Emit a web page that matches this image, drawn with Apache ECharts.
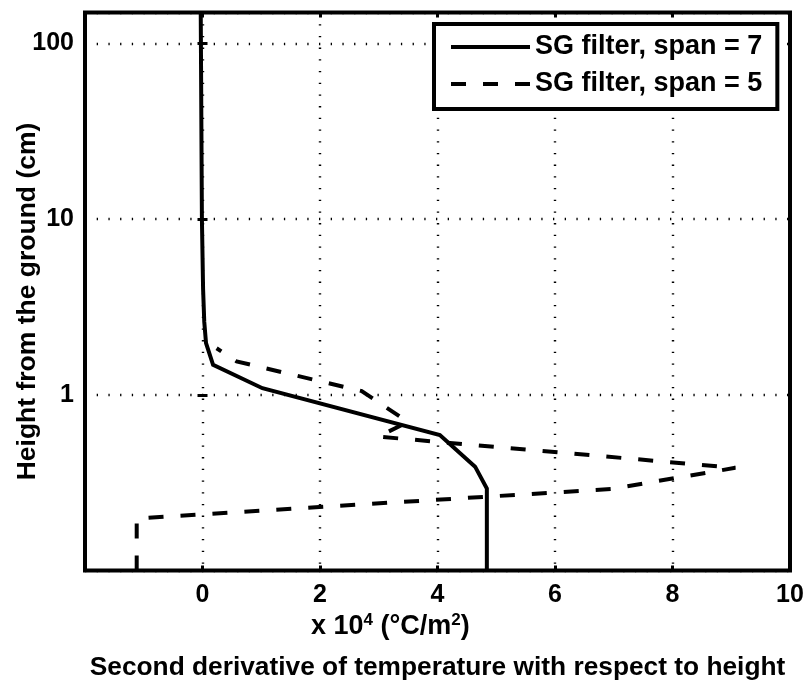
<!DOCTYPE html>
<html>
<head>
<meta charset="utf-8">
<script src="https://cdn.jsdelivr.net/npm/echarts@6/dist/echarts.min.js"></script>
<style>
  html, body { margin: 0; padding: 0; background: #fff; }
  #chart { width: 807px; height: 682px; }
</style>
</head>
<body>
<div id="chart"></div>
<script>
// Second derivative of temperature (x 10^4 °C/m²) against height above ground (cm),
// for two Savitzky–Golay filter spans. Points run from the ground upwards.
const seriesNames = ['SG filter, span = 7', 'SG filter, span = 5'];

const span7Curvature = [4.84, 4.84, 4.64, 4.04, 1.02, 0.18, 0.06, 0.03, 0.01, -0.01, -0.03];
const span7Height    = [0.1,  0.293, 0.39, 0.59, 1.09, 1.48, 1.97, 2.6,  4,    10,    150];

const span5Curvature = [-1.12, -1.12, 6.95, 9.07, 2.99, 3.50, 2.71, 0.58, 0.24];
const span5Height    = [0.1,   0.198, 0.291, 0.384, 0.578, 0.70, 1.05, 1.55, 1.84];

// Axis ticks and their labels
const xTickValues = [0, 2, 4, 6, 8, 10];
const yTickLabels = ['1', '10', '100'];

const FONT = 'Liberation Sans, Arial, Helvetica, sans-serif';

function pairs(xs, ys) {
  return xs.map((x, i) => [x, ys[i]]);
}

const chart = echarts.init(document.getElementById('chart'), null, { renderer: 'canvas' });

const dotted = { color: '#000', width: 2.4, type: [1.3, 10.4] };
const tickStyle = { color: '#000', width: 3 };

chart.setOption({
  animation: false,
  backgroundColor: '#fff',
  textStyle: { fontFamily: FONT, fontWeight: 'bold', color: '#000' },
  grid: {
    left: 85, right: 17, top: 12.5, bottom: 111.5,
    containLabel: false, outerBoundsMode: 'none',
    show: true, borderColor: '#000', borderWidth: 4, backgroundColor: 'transparent'
  },
  title: {
    text: '{m|x 10}{s|4}{m| (°C/m}{s|2}{m|)}',
    left: 311, top: 612, padding: 0,
    textStyle: {
      rich: {
        m: { fontFamily: FONT, fontWeight: 'bold', fontSize: 27, lineHeight: 30, color: '#000' },
        s: { fontFamily: FONT, fontWeight: 'bold', fontSize: 17, lineHeight: 10, verticalAlign: 'top', color: '#000' }
      }
    }
  },
  legend: {
    data: seriesNames,
    orient: 'vertical',
    left: 434, top: 24,
    padding: [9.5, 15, 11.5, 15],
    itemGap: 10,
    itemWidth: 79, itemHeight: 20,
    backgroundColor: '#fff',
    borderColor: '#000', borderWidth: 4,
    itemStyle: { opacity: 0 },
    lineStyle: { width: 4, color: '#000' },
    textStyle: { fontFamily: FONT, fontWeight: 'bold', fontSize: 27, color: '#000' }
  },
  xAxis: [
    {
      type: 'value', min: -2, max: 10, interval: 2,
      name: 'Second derivative of temperature with respect to height',
      nameLocation: 'middle', nameGap: 84, nameMoveOverlap: false,
      nameTextStyle: { fontFamily: FONT, fontWeight: 'bold', fontSize: 26.3, color: '#000' },
      axisLine: { show: false },
      axisTick: { show: true, inside: true, length: 5, lineStyle: tickStyle },
      axisLabel: {
        margin: 12, fontFamily: FONT, fontWeight: 'bold', fontSize: 25, color: '#000',
        formatter: v => (xTickValues.indexOf(v) >= 0 ? String(v) : '')
      },
      splitLine: { show: true, lineStyle: dotted }
    },
    {
      type: 'value', min: -2, max: 10, interval: 2, position: 'top',
      axisLine: { show: false },
      axisTick: { show: true, inside: true, length: 5, lineStyle: tickStyle },
      axisLabel: { show: false },
      splitLine: { show: false }
    }
  ],
  yAxis: [
    {
      type: 'log', logBase: 10, min: 0.1, max: 150,
      name: 'Height from the ground (cm)',
      nameLocation: 'middle', nameGap: 44, nameRotate: 90, nameMoveOverlap: false,
      nameTextStyle: { fontFamily: FONT, fontWeight: 'bold', fontSize: 26.5, color: '#000', padding: [0, 20, 0, 0] },
      axisLine: { show: false },
      axisTick: { show: true, inside: true, length: 5, lineStyle: tickStyle },
      axisLabel: {
        margin: 11, fontFamily: FONT, fontWeight: 'bold', fontSize: 25, color: '#000',
        formatter: v => {
          const s = String(Math.round(v * 1000) / 1000);
          return yTickLabels.indexOf(s) >= 0 ? s : '';
        }
      },
      splitLine: { show: true, lineStyle: dotted }
    },
    {
      type: 'log', logBase: 10, min: 0.1, max: 150, position: 'right',
      axisLine: { show: false },
      axisTick: { show: true, inside: true, length: 5, lineStyle: tickStyle },
      axisLabel: { show: false },
      splitLine: { show: false }
    }
  ],
  series: [
    {
      name: seriesNames[0],
      type: 'line',
      xAxisIndex: 0, yAxisIndex: 0,
      data: pairs(span7Curvature, span7Height),
      symbol: 'none',
      lineStyle: { color: '#000', width: 4, type: 'solid', join: 'miter' },
      itemStyle: { color: '#000' },
      z: 5
    },
    {
      name: seriesNames[1],
      type: 'line',
      xAxisIndex: 0, yAxisIndex: 0,
      data: pairs(span5Curvature, span5Height),
      symbol: 'none',
      lineStyle: { color: '#000', width: 4, type: [15, 17], join: 'miter', miterLimit: 2 },
      itemStyle: { color: '#000' },
      z: 5
    }
  ]
});
</script>
</body>
</html>
